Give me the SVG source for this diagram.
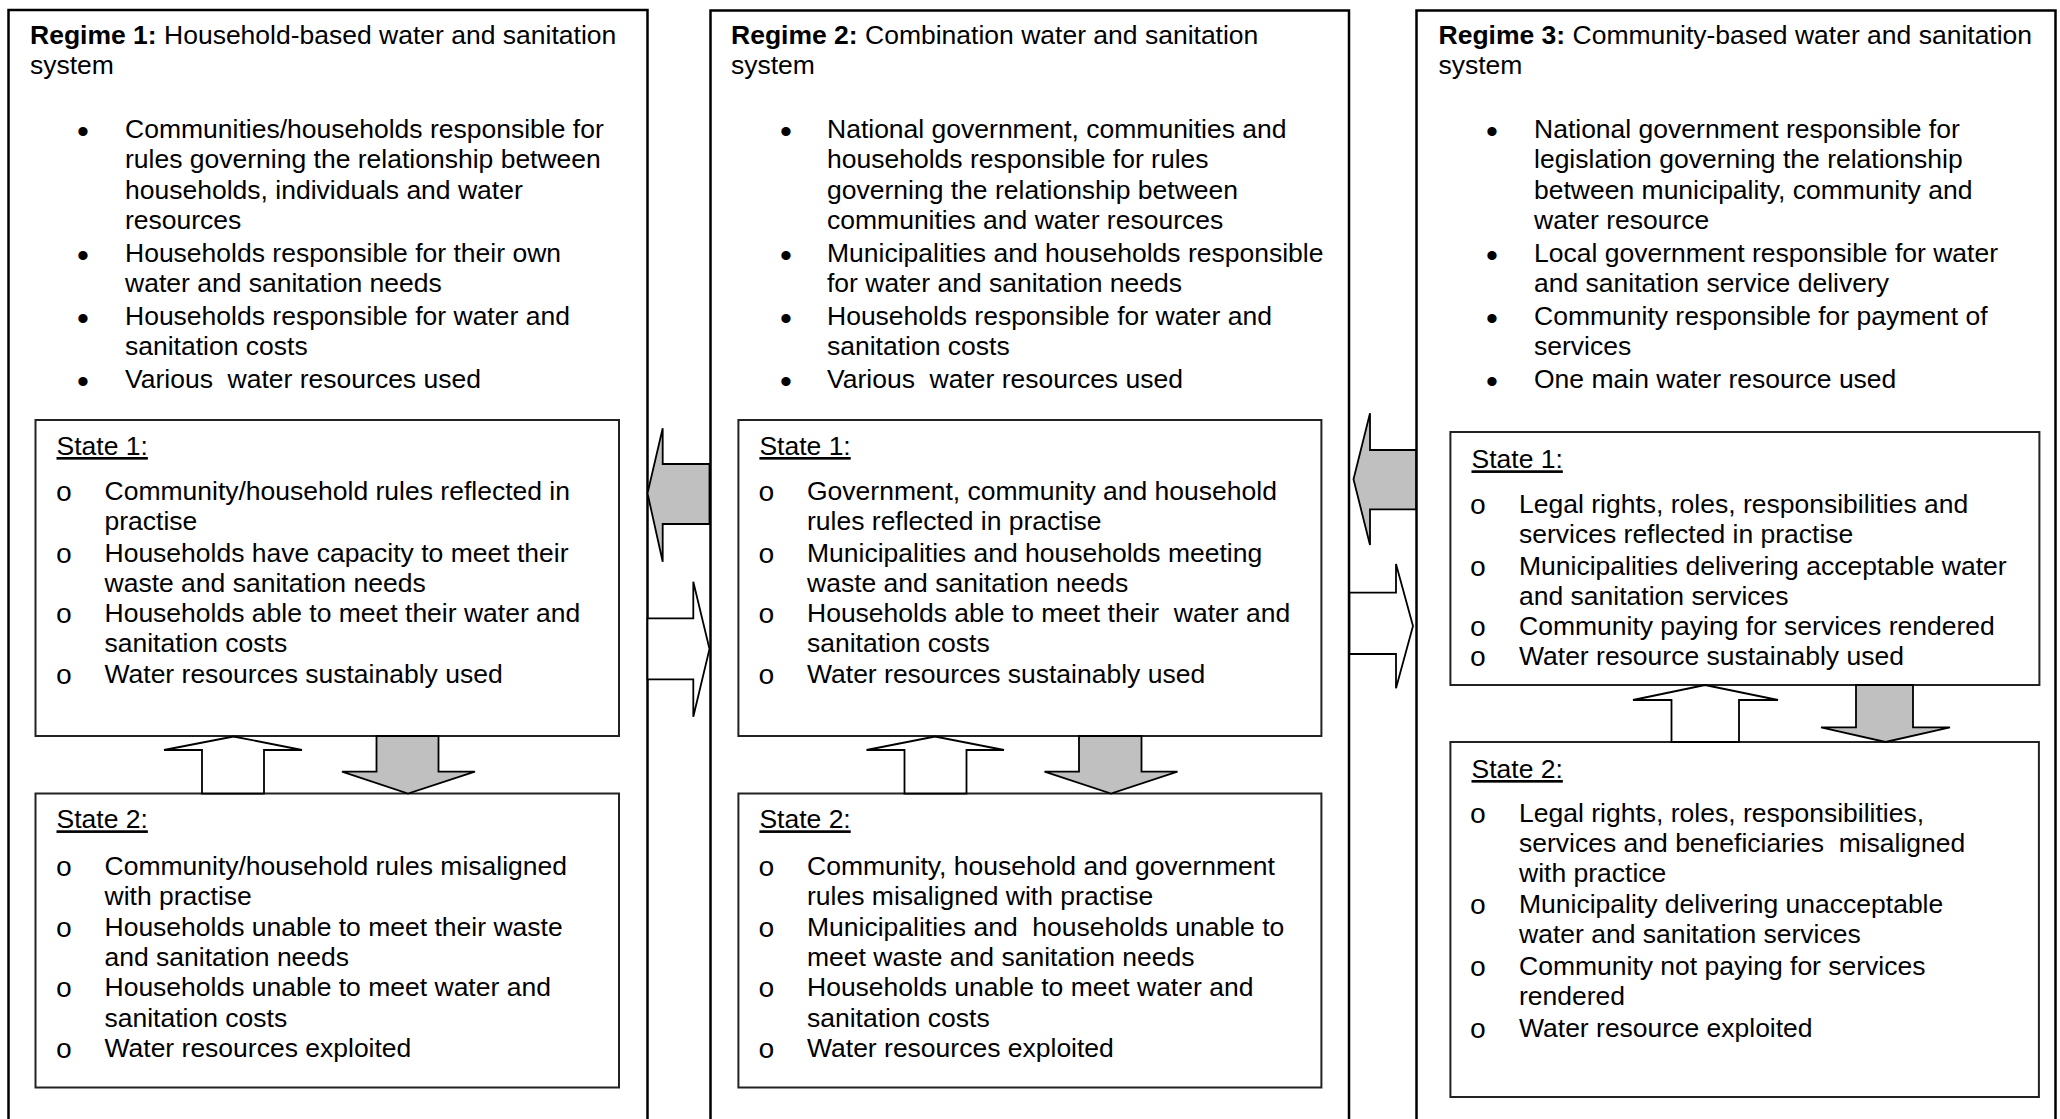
<svg xmlns="http://www.w3.org/2000/svg" width="2060" height="1119" viewBox="0 0 2060 1119">
  <style>
    .frame { fill: #fff; stroke: #000; stroke-width: 2.5; }
    .state { fill: #fff; stroke: #222; stroke-width: 2; }
    .t { font-family: "Liberation Sans", Arial, sans-serif; font-size: 26.5px; fill: #000; }
    .bold { font-weight: bold; }
    .hd { text-decoration: underline; }
    .dot { font-family: "Liberation Sans", Arial, sans-serif; font-size: 34px; fill: #000; text-anchor: middle; }
    .o { font-family: "Liberation Mono", "Courier New", monospace; font-size: 28px; fill: #000; text-anchor: middle; }
    .arrow-open { fill: #fff; stroke: #000; stroke-width: 1.8; stroke-linejoin: miter; }
    .arrow-fill { fill: #c0c0c0; stroke: #000; stroke-width: 1.8; stroke-linejoin: miter; }
  </style>

  <!-- Regime 1 -->
  <g id="regime1">
    <rect class="frame" x="8.5" y="10" width="639" height="1130"/>
    <text class="t" x="30" y="43.5"><tspan class="bold">Regime 1:</tspan> Household-based water and sanitation</text>
    <text class="t" x="30" y="74">system</text>
    <text class="dot" x="83" y="143">•</text>
    <text class="dot" x="83" y="267">•</text>
    <text class="dot" x="83" y="330">•</text>
    <text class="dot" x="83" y="393">•</text>
    <text class="t">
      <tspan x="125" y="138">Communities/households responsible for</tspan>
      <tspan x="125" y="168.3">rules governing the relationship between</tspan>
      <tspan x="125" y="198.6">households, individuals and water</tspan>
      <tspan x="125" y="228.9">resources</tspan>
      <tspan x="125" y="262">Households responsible for their own</tspan>
      <tspan x="125" y="292.3">water and sanitation needs</tspan>
      <tspan x="125" y="325">Households responsible for water and</tspan>
      <tspan x="125" y="355.3">sanitation costs</tspan>
    </text>
    <text class="t" x="125" y="388" xml:space="preserve">Various  water resources used</text>
  </g>

  <g id="r1-state1">
    <rect class="state" x="35.5" y="420" width="583.5" height="316"/>
    <text class="t hd" x="56.5" y="455">State 1:</text>
    <text class="o" x="64" y="501">o</text>
    <text class="o" x="64" y="562.5">o</text>
    <text class="o" x="64" y="623">o</text>
    <text class="o" x="64" y="684.3">o</text>
    <text class="t">
      <tspan x="104.5" y="500">Community/household rules reflected in</tspan>
      <tspan x="104.5" y="530.3">practise</tspan>
      <tspan x="104.5" y="561.5">Households have capacity to meet their</tspan>
      <tspan x="104.5" y="591.8">waste and sanitation needs</tspan>
      <tspan x="104.5" y="622">Households able to meet their water and</tspan>
      <tspan x="104.5" y="652.3">sanitation costs</tspan>
      <tspan x="104.5" y="683.3">Water resources sustainably used</tspan>
    </text>
  </g>

  <g id="r1-state2">
    <rect class="state" x="35.5" y="793.5" width="583.5" height="294"/>
    <text class="t hd" x="56.5" y="828.3">State 2:</text>
    <text class="o" x="64" y="876">o</text>
    <text class="o" x="64" y="936.6">o</text>
    <text class="o" x="64" y="997.2">o</text>
    <text class="o" x="64" y="1057.8">o</text>
    <text class="t">
      <tspan x="104.5" y="875">Community/household rules misaligned</tspan>
      <tspan x="104.5" y="905.3">with practise</tspan>
      <tspan x="104.5" y="935.6">Households unable to meet their waste</tspan>
      <tspan x="104.5" y="965.9">and sanitation needs</tspan>
      <tspan x="104.5" y="996.2">Households unable to meet water and</tspan>
      <tspan x="104.5" y="1026.5">sanitation costs</tspan>
      <tspan x="104.5" y="1056.8">Water resources exploited</tspan>
    </text>
  </g>

  <!-- Regime 2 -->
  <g id="regime2">
    <rect class="frame" x="710.5" y="10.5" width="638.5" height="1130"/>
    <text class="t" x="731" y="43.5"><tspan class="bold">Regime 2:</tspan> Combination water and sanitation</text>
    <text class="t" x="731" y="74">system</text>
    <text class="dot" x="786" y="143">•</text>
    <text class="dot" x="786" y="267">•</text>
    <text class="dot" x="786" y="330">•</text>
    <text class="dot" x="786" y="393">•</text>
    <text class="t">
      <tspan x="827" y="138">National government, communities and</tspan>
      <tspan x="827" y="168.3">households responsible for rules</tspan>
      <tspan x="827" y="198.6">governing the relationship between</tspan>
      <tspan x="827" y="228.9">communities and water resources</tspan>
      <tspan x="827" y="262">Municipalities and households responsible</tspan>
      <tspan x="827" y="292.3">for water and sanitation needs</tspan>
      <tspan x="827" y="325">Households responsible for water and</tspan>
      <tspan x="827" y="355.3">sanitation costs</tspan>
    </text>
    <text class="t" x="827" y="388" xml:space="preserve">Various  water resources used</text>
  </g>

  <g id="r2-state1">
    <rect class="state" x="738.4" y="420" width="583" height="316"/>
    <text class="t hd" x="759.4" y="455">State 1:</text>
    <text class="o" x="766.5" y="501">o</text>
    <text class="o" x="766.5" y="562.5">o</text>
    <text class="o" x="766.5" y="623">o</text>
    <text class="o" x="766.5" y="684.3">o</text>
    <text class="t">
      <tspan x="807" y="500">Government, community and household</tspan>
      <tspan x="807" y="530.3">rules reflected in practise</tspan>
      <tspan x="807" y="561.5">Municipalities and households meeting</tspan>
      <tspan x="807" y="591.8">waste and sanitation needs</tspan>
    </text>
    <text class="t" x="807" y="622" xml:space="preserve">Households able to meet their  water and</text>
    <text class="t">
      <tspan x="807" y="652.3">sanitation costs</tspan>
      <tspan x="807" y="683.3">Water resources sustainably used</tspan>
    </text>
  </g>

  <g id="r2-state2">
    <rect class="state" x="738.4" y="793.5" width="583" height="294"/>
    <text class="t hd" x="759.4" y="828.3">State 2:</text>
    <text class="o" x="766.5" y="876">o</text>
    <text class="o" x="766.5" y="936.6">o</text>
    <text class="o" x="766.5" y="997.2">o</text>
    <text class="o" x="766.5" y="1057.8">o</text>
    <text class="t">
      <tspan x="807" y="875">Community, household and government</tspan>
      <tspan x="807" y="905.3">rules misaligned with practise</tspan>
    </text>
    <text class="t" x="807" y="935.6" xml:space="preserve">Municipalities and  households unable to</text>
    <text class="t">
      <tspan x="807" y="965.9">meet waste and sanitation needs</tspan>
      <tspan x="807" y="996.2">Households unable to meet water and</tspan>
      <tspan x="807" y="1026.5">sanitation costs</tspan>
      <tspan x="807" y="1056.8">Water resources exploited</tspan>
    </text>
  </g>

  <!-- Regime 3 -->
  <g id="regime3">
    <rect class="frame" x="1416.5" y="10.5" width="639" height="1130"/>
    <text class="t" x="1438.5" y="43.5"><tspan class="bold">Regime 3:</tspan> Community-based water and sanitation</text>
    <text class="t" x="1438.5" y="74">system</text>
    <text class="dot" x="1492" y="143">•</text>
    <text class="dot" x="1492" y="267">•</text>
    <text class="dot" x="1492" y="330">•</text>
    <text class="dot" x="1492" y="393">•</text>
    <text class="t">
      <tspan x="1534" y="138">National government responsible for</tspan>
      <tspan x="1534" y="168.3">legislation governing the relationship</tspan>
      <tspan x="1534" y="198.6">between municipality, community and</tspan>
      <tspan x="1534" y="228.9">water resource</tspan>
      <tspan x="1534" y="262">Local government responsible for water</tspan>
      <tspan x="1534" y="292.3">and sanitation service delivery</tspan>
      <tspan x="1534" y="325">Community responsible for payment of</tspan>
      <tspan x="1534" y="355.3">services</tspan>
      <tspan x="1534" y="388">One main water resource used</tspan>
    </text>
  </g>

  <g id="r3-state1">
    <rect class="state" x="1450.4" y="432" width="589" height="253"/>
    <text class="t hd" x="1471.5" y="468.3">State 1:</text>
    <text class="o" x="1478" y="514.3">o</text>
    <text class="o" x="1478" y="576">o</text>
    <text class="o" x="1478" y="636">o</text>
    <text class="o" x="1478" y="666">o</text>
    <text class="t">
      <tspan x="1519" y="513.3">Legal rights, roles, responsibilities and</tspan>
      <tspan x="1519" y="543.3">services reflected in practise</tspan>
      <tspan x="1519" y="575">Municipalities delivering acceptable water</tspan>
      <tspan x="1519" y="605">and sanitation services</tspan>
      <tspan x="1519" y="635">Community paying for services rendered</tspan>
      <tspan x="1519" y="665">Water resource sustainably used</tspan>
    </text>
  </g>

  <g id="r3-state2">
    <rect class="state" x="1450.4" y="742" width="588.5" height="355"/>
    <text class="t hd" x="1471.5" y="778">State 2:</text>
    <text class="o" x="1478" y="822.7">o</text>
    <text class="o" x="1478" y="914.3">o</text>
    <text class="o" x="1478" y="976">o</text>
    <text class="o" x="1478" y="1037.7">o</text>
    <text class="t">
      <tspan x="1519" y="821.7">Legal rights, roles, responsibilities,</tspan>
    </text>
    <text class="t" x="1519" y="851.7" xml:space="preserve">services and beneficiaries  misaligned</text>
    <text class="t">
      <tspan x="1519" y="881.7">with practice</tspan>
      <tspan x="1519" y="913.3">Municipality delivering unacceptable</tspan>
      <tspan x="1519" y="943.3">water and sanitation services</tspan>
      <tspan x="1519" y="975">Community not paying for services</tspan>
      <tspan x="1519" y="1005">rendered</tspan>
      <tspan x="1519" y="1036.7">Water resource exploited</tspan>
    </text>
  </g>

  <!-- Block arrows between states and between regimes -->
  <g id="connectors">
    <!-- Regime 1: state 2 -> state 1 (up), state 1 -> state 2 (down) -->
    <polygon class="arrow-open" points="202,793.5 202,750 164,750 233.5,736.5 302,750 264,750 264,793.5"/>
    <polygon class="arrow-fill" points="376.5,736 376.5,771.7 342,771.7 408,793.5 475,771.7 438.5,771.7 438.5,736"/>

    <!-- Regime 2: state 2 -> state 1 (up), state 1 -> state 2 (down) -->
    <polygon class="arrow-open" points="904.5,793.5 904.5,750 866.5,750 935,736.5 1004,750 966.5,750 966.5,793.5"/>
    <polygon class="arrow-fill" points="1079,736 1079,771.7 1044.5,771.7 1111,793.5 1177.5,771.7 1141.5,771.7 1141.5,736"/>

    <!-- Regime 3: state 2 -> state 1 (up), state 1 -> state 2 (down) -->
    <polygon class="arrow-open" points="1671.5,742 1671.5,700 1633,700 1705,685 1778,700 1739,700 1739,742"/>
    <polygon class="arrow-fill" points="1856,685 1856,727.3 1821,727.3 1885.5,742 1950,727.3 1913,727.3 1913,685"/>

    <!-- Regime 2 -> Regime 1 (gray, pointing left) -->
    <polygon class="arrow-fill" points="709.5,464 662.7,464 662.7,428.3 647.5,493.3 662.7,561.7 662.7,524 709.5,524"/>
    <!-- Regime 1 -> Regime 2 (white, pointing right) -->
    <polygon class="arrow-open" points="647.5,618.3 693.3,618.3 693.3,581.7 709.5,649 693.3,716.7 693.3,679.3 647.5,679.3"/>

    <!-- Regime 3 -> Regime 2 (gray, pointing left) -->
    <polygon class="arrow-fill" points="1416,450 1370,450 1370,413.3 1353.5,479.3 1370,545 1370,509.3 1416,509.3"/>
    <!-- Regime 2 -> Regime 3 (white, pointing right) -->
    <polygon class="arrow-open" points="1349.5,592.7 1396,592.7 1396,564 1413,626 1396,688.3 1396,654 1349.5,654"/>
  </g>
</svg>
